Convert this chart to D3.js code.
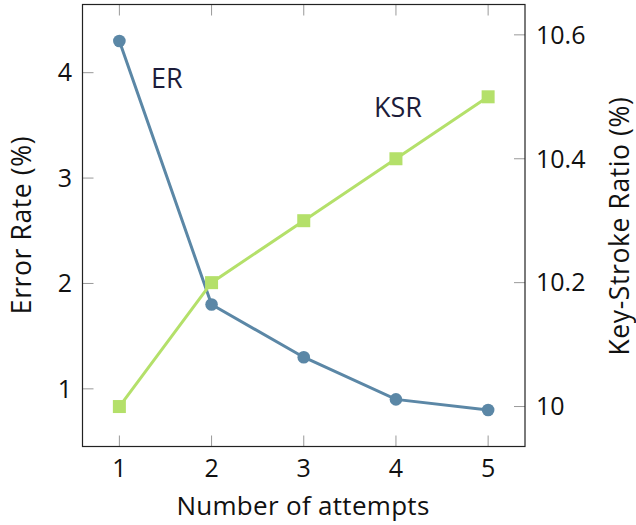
<!DOCTYPE html>
<html>
<head>
<meta charset="utf-8">
<script src="https://cdn.jsdelivr.net/npm/d3@7"></script>
<style>
  body { margin: 0; background: #fff; }
  svg text { font-family: "Open Sans", "DejaVu Sans", sans-serif; fill: #111; }
</style>
</head>
<body>
<svg width="636" height="525"></svg>
<script>
var attempts = [1, 2, 3, 4, 5]
var errorRate = [4.3, 1.8, 1.3, 0.9, 0.8]
var keyStroke = [10.0, 10.2, 10.3, 10.4, 10.5]
var erTicks = [1, 2, 3, 4]
var ksrTicks = [10, 10.2, 10.4, 10.6]

var svg = d3.select('svg')

var plotL = 82.5, plotR = 525, plotT = 4.5, plotB = 446.5
var blue = '#5b87a6', green = '#b4e06a'

var x = d3.scaleLinear().domain([0.6, 5.4]).range([plotL, plotR])
var yL = d3.scaleLinear().domain([0.453, 4.647]).range([plotB, plotT])
var yR = d3.scaleLinear().domain([9.9355, 10.649]).range([plotB, plotT])

// tick marks (inside)
var tickLen = 11
var g = svg.append('g')

g.selectAll('.xtb').data(attempts).enter().append('line')
  .attr('x1', function (d) { return x(d) }).attr('x2', function (d) { return x(d) })
  .attr('y1', plotB).attr('y2', plotB - tickLen)
  .style('stroke', '#999').style('stroke-width', 1)
g.selectAll('.xtt').data(attempts).enter().append('line')
  .attr('x1', function (d) { return x(d) }).attr('x2', function (d) { return x(d) })
  .attr('y1', plotT).attr('y2', plotT + tickLen)
  .style('stroke', '#999').style('stroke-width', 1)
g.selectAll('.ylt').data(erTicks).enter().append('line')
  .attr('x1', plotL).attr('x2', plotL + tickLen)
  .attr('y1', function (d) { return yL(d) }).attr('y2', function (d) { return yL(d) })
  .style('stroke', '#999').style('stroke-width', 1)
g.selectAll('.yrt').data(ksrTicks).enter().append('line')
  .attr('x1', plotR).attr('x2', plotR - tickLen)
  .attr('y1', function (d) { return yR(d) }).attr('y2', function (d) { return yR(d) })
  .style('stroke', '#999').style('stroke-width', 1)

// tick labels
g.selectAll('.xl').data(attempts).enter().append('text')
  .attr('x', function (d) { return x(d) }).attr('y', 477)
  .attr('text-anchor', 'middle').style('font-size', '25px')
  .text(function (d) { return d })
g.selectAll('.yll').data(erTicks).enter().append('text')
  .attr('x', 72).attr('y', function (d) { return yL(d) })
  .attr('dy', '0.35em')
  .attr('text-anchor', 'end').style('font-size', '25px')
  .text(function (d) { return d })
g.selectAll('.yrl').data(ksrTicks).enter().append('text')
  .attr('x', 536).attr('y', function (d) { return yR(d) })
  .attr('dy', '0.35em')
  .attr('text-anchor', 'start').style('font-size', '25px')
  .text(function (d) { return d3.format('~g')(d) })

// axis titles
svg.append('text')
  .attr('transform', 'translate(31,' + 225 + ') rotate(-90)')
  .attr('text-anchor', 'middle').style('font-size', '26.5px').style('letter-spacing', '0.6px')
  .text('Error Rate (%)')
svg.append('text')
  .attr('transform', 'translate(629,' + 226 + ') rotate(-90)')
  .attr('text-anchor', 'middle').style('font-size', '26.5px').style('letter-spacing', '0.6px')
  .text('Key-Stroke Ratio (%)')
svg.append('text')
  .attr('x', 303).attr('y', 515)
  .attr('text-anchor', 'middle').style('font-size', '26px').style('letter-spacing', '0.3px')
  .text('Number of attempts')

// ER series
var lineER = d3.line()
  .x(function (d, i) { return x(attempts[i]) })
  .y(function (d) { return yL(d) })
svg.append('path').datum(errorRate)
  .attr('d', lineER)
  .style('fill', 'none').style('stroke', blue).style('stroke-width', 3)
svg.selectAll('.er').data(errorRate).enter().append('circle')
  .attr('cx', function (d, i) { return x(attempts[i]) })
  .attr('cy', function (d) { return yL(d) })
  .attr('r', 6.3)
  .style('fill', blue)

// KSR series
var lineKSR = d3.line()
  .x(function (d, i) { return x(attempts[i]) })
  .y(function (d) { return yR(d) })
svg.append('path').datum(keyStroke)
  .attr('d', lineKSR)
  .style('fill', 'none').style('stroke', green).style('stroke-width', 3)
svg.selectAll('.ksr').data(keyStroke).enter().append('rect')
  .attr('x', function (d, i) { return x(attempts[i]) - 6.5 })
  .attr('y', function (d) { return yR(d) - 6.5 })
  .attr('width', 13).attr('height', 13)
  .style('fill', green)

// series labels
svg.append('text').attr('x', 151).attr('y', 88)
  .style('font-size', '27px').style('fill', '#1c1c3a')
  .text('ER')
svg.append('text').attr('x', 374).attr('y', 117)
  .style('font-size', '27px').style('fill', '#1c1c3a')
  .text('KSR')

// frame
svg.append('rect')
  .attr('x', plotL).attr('y', plotT)
  .attr('width', plotR - plotL).attr('height', plotB - plotT)
  .style('fill', 'none').style('stroke', '#222').style('stroke-width', 1.2)
</script>
</body>
</html>
